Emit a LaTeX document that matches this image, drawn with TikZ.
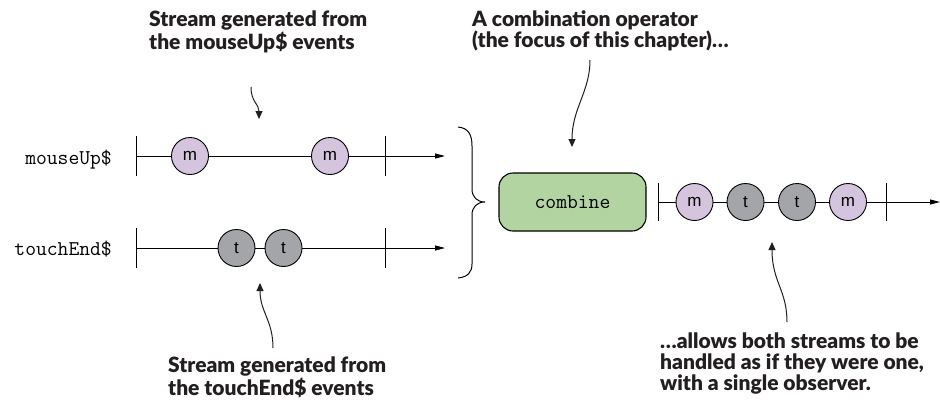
\documentclass[tikz,border=0pt]{standalone}
\usepackage{fontspec}
\setmainfont{Lato}[BoldFont={Lato Black}]
\newfontfamily\marblefont{Liberation Sans}
\usepackage{tikz}
\usetikzlibrary{arrows.meta,positioning,shapes,calc}
\definecolor{mousepurple}{RGB}{213,196,222}
\definecolor{touchgray}{RGB}{163,165,168}
\definecolor{combinegreen}{RGB}{177,212,160}
\definecolor{inkdark}{RGB}{35,31,32}

\begin{document}
\begin{tikzpicture}[
    x=1bp, y=-1bp,
    mmarble/.style={draw, circle, minimum size=37bp, inner sep=0pt, line width=0.9bp, fill=mousepurple, font=\marblefont\fontsize{17bp}{17bp}\selectfont},
    tmarble/.style={mmarble, fill=touchgray},
    streamname/.style={anchor=base east, inner sep=0pt, font=\ttfamily\fontsize{21bp}{21bp}\selectfont},
    operator/.style={draw, rounded corners=14bp, line width=1.1bp, fill=combinegreen, minimum width=147bp, minimum height=58bp, font=\ttfamily\fontsize{21bp}{21bp}\selectfont},
    callout/.style={anchor=north west, align=left, inner sep=0pt, text=inkdark, font=\bfseries\fontsize{21bp}{21bp}\selectfont},
    timeline/.style={line width=1bp, -{Triangle[length=10bp,width=5bp]}},
    tickmark/.style={line width=1bp},
    pointer/.style={line width=1bp, draw=inkdark, -{Triangle[length=8bp,width=7bp]}},
]
\useasboundingbox (0,0) rectangle (940,402);

% input streams
\node[streamname] (mouselabel) at (112,164) {mouseUp\$};
\coordinate (mstart) at (136,156);
\node[mmarble] (m1) at (190,156) {m};
\node[mmarble] (m2) at (330,156) {m};
\coordinate (mstop) at (385,156);
\coordinate (mend) at (445,156);
\draw[timeline] (mstart) -- (m1) -- (m2) -- (mend);
\draw[tickmark] (mstart) ++(0,-20) -- ++(0,40);
\draw[tickmark] (mstop) ++(0,-20) -- ++(0,40);

\node[streamname] (touchlabel) at (112,255) {touchEnd\$};
\coordinate (tstart) at (136,248);
\node[tmarble] (t1) at (236.5,248) {t};
\node[tmarble] (t2) at (283.5,248) {t};
\coordinate (tstop) at (385,248);
\coordinate (tend) at (445,248);
\draw[timeline] (tstart) -- (t1) -- (t2) -- (tend);
\draw[tickmark] (tstart) ++(0,-20) -- ++(0,40);
\draw[tickmark] (tstop) ++(0,-20) -- ++(0,40);

% brace joining both streams
\draw[line width=1bp] (458,127) .. controls (468,128) and (472,134) .. (472,146)
    -- (472,189) .. controls (472,197) and (477,202) .. (485,202)
    .. controls (477,202) and (472,207) .. (472,215)
    -- (472,264) .. controls (472,272) and (468,277) .. (458,278);

% operator and output stream
\node[operator] (combine) at (572.5,202) {combine};
\coordinate (ostart) at (658,202);
\node[mmarble] (o1) at (694.5,202) {m};
\node[tmarble] (o2) at (745.5,202) {t};
\node[tmarble] (o3) at (797,202) {t};
\node[mmarble] (o4) at (848,202) {m};
\coordinate (ostop) at (886,202);
\coordinate (oend) at (940,202);
\draw[timeline] (ostart) -- (o1) -- (o2) -- (o3) -- (o4) -- (oend);
\draw[tickmark] (ostart) ++(0,-19) -- ++(0,38);
\draw[tickmark] (ostop) ++(0,-19) -- ++(0,38);

% callouts
\node[callout] (mousenote) at (149,11) {Stream generated from\\the mouseUp\$ events};
\node[callout] (combnote) at (472,11) {A combination operator\\(the focus of this chapter)…};
\node[callout] (touchnote) at (168,357) {Stream generated from\\the touchEnd\$ events};
\node[callout] (outnote) at (660,333) {…allows both streams to be\\handled as if they were one,\\with a single observer.};

\coordinate (mousefrom) at (251,87);
\coordinate (mouseto) at (259,119);
\draw[pointer] (mousefrom) .. controls (251,102) and (259,104) .. (mouseto);
\coordinate (combfrom) at (590,60);
\coordinate (combto) at (572,147);
\draw[pointer] (combfrom) .. controls (590,92) and (572,108) .. (combto);
\coordinate (touchfrom) at (273,348);
\coordinate (touchto) at (260,283);
\draw[pointer] (touchfrom) .. controls (273,320) and (260,312) .. (touchto);
\coordinate (outfrom) at (787,322);
\coordinate (outto) at (772,242);
\draw[pointer] (outfrom) .. controls (787,290) and (772,282) .. (outto);
\end{tikzpicture}
\end{document}
